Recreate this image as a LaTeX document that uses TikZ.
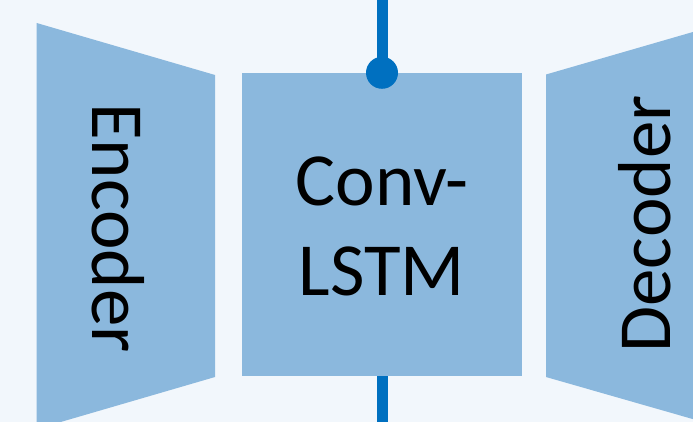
\documentclass[tikz,border=0pt]{standalone}
\usepackage{fontspec}
\setmainfont{Carlito}
\definecolor{bgc}{HTML}{F2F7FC}
\definecolor{blockc}{HTML}{8BB8DD}
\definecolor{wirec}{HTML}{0070C0}
\begin{document}
\begin{tikzpicture}[x=1pt,y=-1pt,
  block/.style={fill=blockc, draw=none, inner sep=0pt},
  lbl/.style={font=\fontsize{75}{90}\selectfont, text=black, inner sep=0pt},
  wire/.style={draw=wirec, line width=11pt},
  joint/.style={fill=wirec}]
  % canvas
  \fill[bgc] (0,0) rectangle (693,422);
  \useasboundingbox (0,0) rectangle (693,422);
  \clip (0,0) rectangle (693,422);

  % encoder trapezoid
  \coordinate (e1) at (36.7,23);
  \coordinate (e2) at (215,75);
  \coordinate (e3) at (215,377);
  \coordinate (e4) at (36.7,429);
  \fill[blockc] (e1) -- (e2) -- (e3) -- (e4) -- cycle;
  \node[lbl, rotate=-90, anchor=base] (enc) at (92.7,228) {Encoder};

  % decoder trapezoid
  \coordinate (d1) at (546,74.5);
  \coordinate (d2) at (724,23);
  \coordinate (d3) at (724,428);
  \coordinate (d4) at (546,377);
  \fill[blockc] (d1) -- (d2) -- (d3) -- (d4) -- cycle;
  \node[lbl, rotate=90, anchor=base] (dec) at (670,224) {Decoder};

  % recurrent core
  \node[block, minimum width=280pt, minimum height=303pt] (lstm) at (382,224.5) {};
  \node[lbl, align=center] (lstmtxt) at (382,226.5) {Conv-\\LSTM};

  % state wire through the core
  \coordinate (wtop) at (382,-5);
  \coordinate (wbot) at (382,427);
  \draw[wire] (wtop) -- (lstm.north);
  \draw[wire] (lstm.south) -- (wbot);
  \fill[joint] (lstm.north) circle (16);
\end{tikzpicture}
\end{document}
